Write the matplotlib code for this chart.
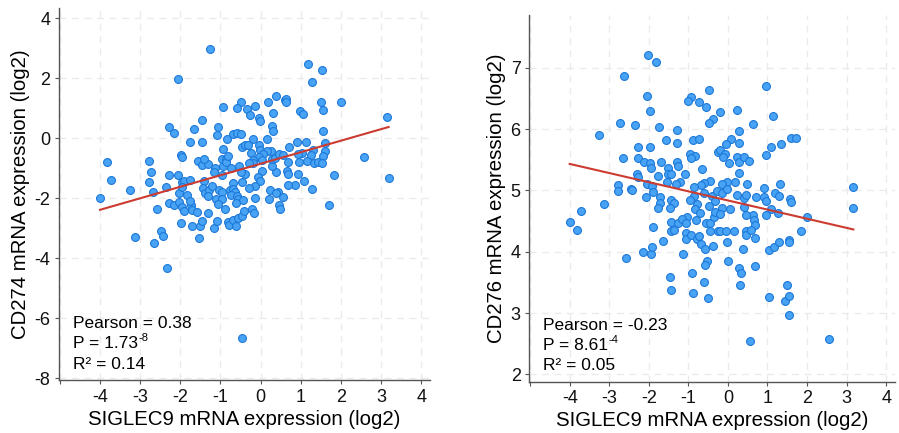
import numpy as np
import matplotlib
matplotlib.use("Agg")
import matplotlib.pyplot as plt

plt.rcParams['font.family'] = ['Liberation Sans', 'DejaVu Sans']

# ---------------- data ----------------
# left panel: SIGLEC9 vs CD274
cd274_x = [-1.26, -2.07, 1.19, 1.54, 1.29, 2.00, 1.50, 1.55, 3.14, 0.38, 0.60, 0.64, 0.64, 0.19,
           -0.49, -0.60, -0.35, -0.15, -0.93, -0.27, 0.32, -0.05, -0.02, 0.98, 1.05, -1.46, -2.29,
           -2.16, -1.65, -1.07, -1.08, 0.28, 0.32, 1.55, -0.68, -0.60, -0.50, -0.84, -0.19, 0.16,
           -1.75, -1.45, -0.93, -0.47, -0.38, -0.32, -0.03, -0.02, 0.91, 1.13, 0.70, 1.02, 0.94,
           1.31, 1.26, 1.60, 1.60, 1.55, 1.16, 1.33, 1.43, 1.52, 2.58, 3.19, 1.71, 1.84, 1.08,
           0.94, 0.96, 0.68, 0.67, 0.68, 0.86, 0.68, 1.29, 0.39, 0.28, 0.28, 0.37, 0.46, 0.55,
           0.27, 0.16, 0.07, -0.05, 0.03, -0.23, -0.18, -0.18, -0.28, -0.53, -0.39, -0.50, 0.04,
           -0.07, -0.02, -0.13, -0.30, -0.46, -0.68, -0.74, -0.94, -0.96, -0.85, -0.86, -0.82,
           -1.14, -1.16, -0.96, -1.55, -1.46, -1.32, -1.40, -1.98, -1.95, -2.79, -2.73, -3.82,
           -3.72, -3.26, -2.79, -2.68, -2.36, -2.29, -2.07, -1.97, -1.90, -1.77, -2.04, -1.95,
           -1.84, -1.40, -1.44, -1.38, -1.29, -1.21, -1.30, -1.10, -1.03, -0.97, -0.76, -0.68,
           -0.64, -0.74, -0.58, -0.56, -0.43, -0.97, -0.13, 0.22, 0.23, 0.43, 0.55, 0.39, -4.00,
           -2.28, -2.16, -2.03, -1.95, -1.91, -1.74, -1.71, -1.58, -1.31, -1.76, -1.99, -1.72,
           -1.52, -1.46, -1.53, -2.59, -3.14, -2.47, -2.43, -2.65, -2.32, -1.15, -1.09, -1.05,
           -0.88, -0.80, -0.79, -0.68, -0.61, -0.57, -0.46, -0.41, -0.61, -0.22, -0.17, 0.45,
           0.48, -0.47]
cd274_y = [2.97, 1.97, 2.48, 2.28, 1.88, 1.22, 1.22, 0.94, 0.72, 1.42, 1.26, 1.32, 1.20, 1.22,
           1.20, 1.00, 0.98, 1.06, 1.03, 0.79, 0.83, 0.68, 0.56, 0.92, 0.80, 0.61, 0.37,
           0.18, 0.30, 0.37, 0.12, 0.41, 0.23, 0.24, 0.13, 0.19, 0.13, -0.02, -0.04, -0.01,
           -0.13, -0.13, -0.36, -0.28, -0.22, -0.24, -0.24, -0.39, -0.14, -0.14, -0.29, -0.48, -0.52,
           -0.40, -0.56, -0.17, -0.41, -0.59, -0.76, -0.83, -0.78, -0.82, -0.63, -1.33, -2.24, -1.22, -1.42,
           -1.19, -0.80, -0.79, -1.08, -1.20, -1.57, -1.57, -1.68, -1.13, -0.94, -0.70, -0.66, -0.51, -0.57,
           -0.43, -0.42, -0.53, -0.61, -0.74, -0.50, -0.72, -0.83, -0.83, -0.94, -1.20, -1.11, -1.08,
           -1.28, -1.44, -1.59, -1.67, -1.47, -1.48, -0.98, -0.91, -0.70, -0.70, -0.80, -0.59,
           -1.00, -1.13, -1.24, -0.76, -0.88, -0.86, -0.69, -0.56, -0.61, -0.76, -1.11, -0.78,
           -1.39, -1.72, -1.46, -1.78, -1.61, -1.24, -1.24, -1.46, -1.42, -1.39, -1.81, -1.61,
           -1.89, -1.41, -1.67, -1.83, -1.72, -1.59, -1.94, -2.03, -1.73, -1.78, -1.72, -1.70,
           -1.80, -1.90, -1.94, -2.02, -2.06, -2.03, -2.00, -2.03, -1.72, -1.80, -1.97, -1.83, -2.00,
           -2.17, -2.22, -2.14, -2.28, -2.42, -2.24, -2.39, -2.47, -2.48, -2.09, -2.81, -2.94,
           -2.94, -2.76, -3.31, -2.36, -3.30, -3.08, -3.26, -3.48, -4.33, -2.99, -2.77, -2.20,
           -2.36, -2.80, -2.89, -2.74, -2.91, -2.67, -2.58, -2.42, -2.17, -2.36, -2.48, -2.24,
           -2.36, -6.66]

# right panel: SIGLEC9 vs CD276
cd276_x = [-2.02, -1.83, -2.63, -2.05, -1.98, 0.95, -0.49, -0.93, -1.00, -0.74, -0.55, -0.19,
           0.24, 1.14, -0.38, -0.47, 0.63, -2.72, -2.36, -1.74, -3.25, -1.30, 0.27, -2.28, -1.97,
           -1.57, -1.30, -0.89, -0.74, 0.08, 0.29, -0.04, 1.10, 1.35, 1.60, 1.72, 0.97, -0.25,
           -0.19, -0.07, -0.13, -0.95, -0.83, -0.93, -2.66, -2.28, -2.13, -1.96, -1.95, -1.68,
           -1.30, -1.25, -1.52, -1.52, -1.43, -1.76, -2.31, -2.27, -1.09, -0.66, 0.02, 0.23, 0.27,
           0.40, 0.52, 0.28, 0.18, -0.03, -0.15, -0.45, -0.60, -0.69, -0.87, -1.20, -1.31, -1.55,
           -2.04, -1.92, -1.89, -2.46, -2.42, -2.78, -2.79, -2.07, -1.73, -1.71, -1.76, -1.45,
           -1.37, -1.46, -3.13, -3.71, -4.00, -0.87, -0.61, -0.40, -0.28, -0.15, -0.03, -0.32,
           -0.49, -0.78, -0.95, -0.84, -0.70, -0.15, 0.04, 0.24, 0.40, 0.45, 0.40, 0.71, 0.48,
           0.90, 0.92, 0.95, 1.20, 1.30, 1.31, 1.56, 1.59, 1.08, 3.17, 3.16, 0.64, 0.95, 1.26,
           2.00, -1.04,
           -3.82, -2.57, -2.15, -1.95, -1.92, -1.89, -1.65, -1.45, -1.37, -1.45, -1.27, -1.15,
           -1.06, -1.07, -1.05, -1.14, -1.46, -1.43, -0.92, -0.89, -0.82, -0.93, -0.78, -0.72,
           -0.67, -0.59, -0.52, -0.59, -0.60, -0.50, -0.46, -0.55, -0.45, -0.35, -0.32, -0.19,
           -0.26, -0.21, -0.38, -0.06, 0.15, -0.03, -0.01, 0.38, 0.27, 0.33, 0.31, 0.46, 0.46,
           0.45, 0.66, 0.68, 0.59, 0.69, 0.69, 0.55, 1.03, 1.17, 1.05, 1.29, 1.54, 1.55, 1.45,
           1.49, 1.55, 1.55, 1.84, 2.56]
cd276_y = [7.21, 7.10, 6.87, 6.54, 6.30, 6.70, 6.63, 6.52, 6.45, 6.44, 6.36, 6.27,
           6.31, 6.22, 6.16, 6.09, 6.08, 6.10, 6.07, 6.04, 5.91, 5.98, 5.97, 5.71, 5.71,
           5.82, 5.77, 5.82, 5.84, 5.83, 5.78, 5.76, 5.70, 5.76, 5.85, 5.85, 5.58, 5.62,
           5.65, 5.59, 5.55, 5.60, 5.56, 5.53, 5.52, 5.52, 5.47, 5.44, 5.36, 5.46,
           5.47, 5.40, 5.36, 5.26, 5.27, 5.24, 5.26, 5.22, 5.26, 5.35, 5.44, 5.55, 5.46,
           5.55, 5.48, 5.28, 5.14, 5.14, 5.11, 5.16, 5.12, 5.08, 5.06, 5.13, 5.10, 5.13,
           5.11, 5.07, 4.97, 5.02, 5.00, 5.09, 4.99, 4.89, 4.89, 4.80, 4.71, 4.84,
           4.80, 4.71, 4.78, 4.67, 4.49, 4.91, 4.96, 4.90, 4.99, 4.95, 5.03, 4.83,
           4.75, 4.77, 4.84, 4.70, 4.63, 4.72, 4.70, 4.93, 4.87, 4.92, 4.73, 4.89, 5.11,
           5.04, 4.89, 4.82, 4.95, 4.91, 5.11, 4.86, 4.81, 4.69, 5.06, 4.71, 4.60, 4.59, 4.63,
           4.56, 4.57,
           4.36, 3.89, 3.99, 3.96, 4.08, 4.41, 4.17, 4.34, 4.36, 4.49, 4.47, 4.53,
           4.47, 4.30, 4.21, 3.96, 3.59, 3.38, 3.66, 3.33, 4.51, 4.27, 4.20, 4.26,
           4.12, 4.04, 3.85, 3.79, 3.51, 3.24, 4.34, 4.47, 4.46, 4.56, 4.65, 4.62,
           4.34, 4.33, 4.10, 4.33, 4.34, 4.15, 3.85, 4.04, 3.73, 3.65, 3.45, 4.33, 4.27,
           4.59, 4.51, 4.43, 4.36, 4.22, 3.77, 2.55, 4.02, 4.07, 3.26, 4.15, 4.19, 4.15, 3.20,
           3.45, 3.28, 2.97, 4.34, 2.57]

# fitted lines (slope, intercept) and stats as printed on the chart
fit_cd274 = (0.384, -0.85)
fit_cd276 = (-0.149, 4.835)
# (text, superscript)
stats_cd274 = [("Pearson = 0.38", ""), ("P = 1.73", "-8"), ("R² = 0.14", "")]
stats_cd276 = [("Pearson = -0.23", ""), ("P = 8.61", "-4"), ("R² = 0.05", "")]

xlabel = "SIGLEC9 mRNA expression (log2)"

# ---------------- figure ----------------
fig = plt.figure(figsize=(8.99, 4.33), dpi=100)
ax1 = fig.add_axes([0.0653, 0.1217, 0.413, 0.859])
ax2 = fig.add_axes([0.5884, 0.1185, 0.407, 0.847])

def style(ax, xs, ys, fit, stats, ylabel, ylim, yticks):
    ax.set_xlim(-5.03, 4.22)
    ax.set_ylim(*ylim)
    ax.set_xticks(np.arange(-5, 5))
    ax.set_xticklabels([''] + [str(v) for v in range(-4, 5)])
    ax.set_yticks(yticks)
    ax.set_yticklabels([str(v) for v in yticks])
    ax.grid(True, color='#ebebeb', linestyle=(0, (5, 4)), linewidth=1.0, zorder=0)
    for s in ['top', 'right']:
        ax.spines[s].set_visible(False)
    for s in ['left', 'bottom']:
        ax.spines[s].set_color('#555555')
        ax.spines[s].set_linewidth(1.0)
    ax.tick_params(colors='#555555', labelcolor='#111111', length=3, width=0.8,
                   labelsize=13, pad=3)
    ax.scatter(xs, ys, s=32, facecolor='#48a3f4', edgecolor='#1c78d8',
               linewidth=0.8, zorder=3)
    xx = np.array([min(xs), max(xs)])
    ax.plot(xx, fit[0] * xx + fit[1], color='#cc3b30', linewidth=1.5, zorder=4)
    ax.set_xlabel(xlabel, fontsize=14.7, labelpad=3)
    ax.set_ylabel(ylabel, fontsize=14.7, labelpad=3)
    for (txt, sup), yy in zip(stats, [0.140, 0.086, 0.031]):
        t = ax.text(0.038, yy, txt, transform=ax.transAxes, fontsize=12.5,
                    va='baseline', ha='left', zorder=5)
        if sup:
            ax.annotate(sup, xy=(1, 0), xycoords=t, xytext=(0.5, 7.5),
                        textcoords='offset points', fontsize=8,
                        va='baseline', ha='left', zorder=5)

style(ax1, cd274_x, cd274_y, fit_cd274, stats_cd274, "CD274 mRNA expression (log2)",
      (-8.07, 4.33), [-8, -6, -4, -2, 0, 2, 4])
style(ax2, cd276_x, cd276_y, fit_cd276, stats_cd276, "CD276 mRNA expression (log2)",
      (1.88, 7.86), [2, 3, 4, 5, 6, 7])

fig.savefig('out.png', dpi=100)
